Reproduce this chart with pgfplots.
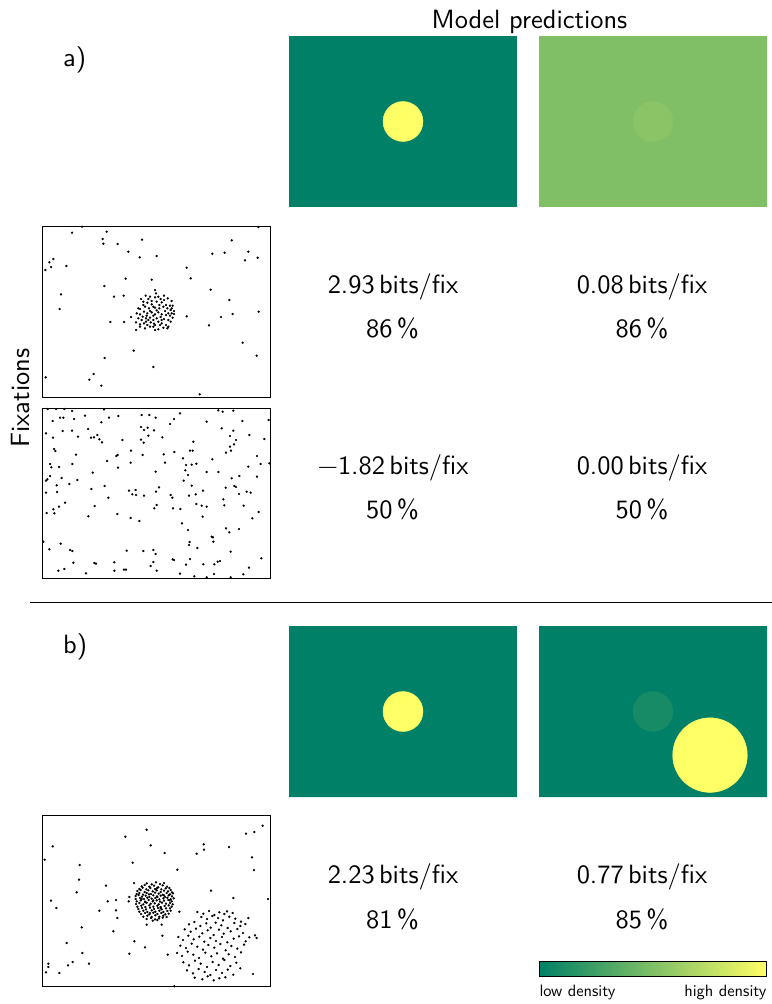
\documentclass[border=0pt]{standalone}
\usepackage{fontspec}
\usepackage{pgfplots}
\usepackage{pgfplotstable}
\pgfplotsset{compat=1.18}
\newfontfamily\lmsten{lmsans10-regular.otf}
\definecolor{sdark}{RGB}{0,128,102}
\definecolor{syellow}{RGB}{255,255,102}
\definecolor{smid}{RGB}{128,191,102}
\definecolor{smidc}{RGB}{138,196,102}
\definecolor{sdarkc}{RGB}{23,139,102}

\pgfplotstableread{
x y
96 23
126 5
200 20
188 42
190 56
306 44
233 57
265 80
299 97
350 93
40 102
28 112
33 126
16 135
79 123
575 46
517 86
554 83
625 80
653 98
615 106
440 128
452 160
257 161
335 164
193 183
512 194
63 208
222 215
251 212
568 225
59 252
656 260
578 267
440 274
543 276
211 291
252 291
507 301
608 353
281 377
194 399
650 392
340 426
161 447
17 457
148 464
184 482
479 508
655 6
345 195
317 212
330 215
345 217
355 215
372 212
383 220
395 228
303 222
310 230
322 233
335 228
350 230
365 232
378 240
390 242
398 242
295 250
300 252
315 245
327 250
340 245
345 248
358 250
370 245
382 250
392 255
402 258
402 267
290 265
300 268
312 260
322 265
335 262
345 268
355 262
365 268
378 270
390 272
398 278
273 276
295 280
305 285
318 280
330 278
340 272
350 280
362 276
372 282
385 285
392 290
288 292
300 298
312 295
322 300
332 292
342 296
355 290
365 295
378 300
385 305
300 305
315 310
330 305
345 315
355 313
370 308
382 310
288 315
340 305
325 285
358 240
335 238
348 205
362 222
310 240
375 258
385 265
320 272
350 256
330 258
365 285
308 275
395 265
340 285
345 300
360 300
318 290
372 225
325 222
395 250
}\fixA

\pgfplotstableread{
x y
23 12
48 12
73 12
96 18
192 13
535 16
548 20
580 17
38 48
60 38
70 38
102 42
135 32
184 52
207 38
235 33
305 30
328 30
347 38
390 57
402 42
420 25
500 50
607 48
686 45
18 85
68 78
96 77
144 72
303 66
312 75
323 68
342 76
325 92
545 70
580 77
628 90
570 93
39 98
114 95
153 98
162 97
172 90
178 103
186 112
247 105
303 104
311 113
367 97
460 110
588 105
673 102
582 118
570 125
42 132
46 138
108 149
233 150
229 153
273 137
308 150
371 148
403 141
450 137
458 137
573 137
558 143
651 153
30 177
34 187
97 177
57 186
201 168
234 188
272 173
375 173
429 160
438 180
455 179
469 176
517 163
662 177
688 175
625 185
158 203
347 200
436 196
444 210
500 201
535 201
30 213
18 227
22 223
65 219
112 225
88 237
50 241
154 252
194 243
267 257
287 255
277 268
288 270
312 272
357 247
348 260
431 227
455 242
489 257
467 268
447 272
392 270
397 278
575 220
598 213
651 215
557 248
583 243
588 246
597 267
620 260
632 263
18 263
51 261
205 278
550 283
75 293
57 305
40 313
43 325
20 324
164 303
350 300
343 310
399 310
421 312
469 297
485 302
500 305
553 301
611 302
656 321
145 334
232 327
272 339
298 348
488 335
637 340
426 355
444 375
558 370
568 382
597 372
515 395
519 397
520 410
10 410
62 416
28 433
90 435
97 438
260 437
310 438
340 435
347 447
449 411
447 420
472 429
572 440
398 463
402 465
450 462
340 471
332 483
540 468
533 470
523 478
490 478
438 479
664 460
100 473
163 474
168 476
223 472
73 492
55 497
138 505
223 497
252 494
258 494
350 497
420 506
463 514
500 517
522 507
572 517
610 508
627 488
}\fixB

\pgfplotstableread{
x y
320 50
256 71
38 100
332 97
374 120
470 122
491 94
492 110
567 102
618 62
643 57
668 38
14 140
119 156
278 149
412 170
636 133
642 171
117 200
198 218
110 238
282 210
513 233
580 255
33 263
49 285
203 265
228 261
268 252
266 265
178 293
228 292
232 315
418 296
684 258
125 343
220 355
320 335
365 335
367 368
80 390
283 385
315 403
127 420
268 422
383 425
25 452
25 462
98 447
84 457
147 452
18 478
58 480
403 520
650 375
645 367
625 315
639 483
320 211
335 214
348 208
360 213
372 210
305 220
314 216
328 221
342 218
355 223
368 217
381 221
388 225
298 228
308 224
319 229
331 225
345 228
352 224
364 229
377 226
392 231
292 234
302 231
314 237
325 232
338 235
350 232
362 237
372 233
384 235
396 238
290 243
298 240
309 245
320 240
333 243
345 239
356 242
368 245
380 240
390 244
399 241
287 249
296 246
306 251
317 248
328 252
340 247
351 250
362 248
375 252
386 247
396 250
287 258
300 255
312 258
322 254
335 257
346 255
358 259
370 256
382 254
392 259
401 256
290 265
302 262
315 266
326 261
338 265
350 262
360 266
372 263
385 261
395 265
288 273
298 270
310 274
320 269
332 272
344 271
356 274
366 269
378 272
390 270
398 274
292 281
304 278
316 282
328 277
340 281
352 278
362 282
374 279
386 277
395 281
295 288
306 285
318 289
330 284
342 288
354 285
365 289
378 286
390 286
298 296
310 293
322 297
335 292
346 296
358 293
370 297
382 294
392 293
303 303
315 300
328 304
340 299
352 303
364 300
376 304
386 302
310 311
322 308
335 312
346 307
358 311
370 308
380 312
320 318
333 315
345 319
357 316
368 314
338 323
352 321
327 244
352 252
316 268
362 285
340 262
330 300
372 247
305 258
388 262
348 228
472 297
490 302
507 294
523 306
538 298
553 303
561 295
578 300
484 312
501 318
517 309
534 315
549 322
568 311
586 317
603 326
447 334
463 327
481 339
499 331
512 344
527 329
544 337
563 345
583 330
601 339
616 333
434 349
452 356
468 347
487 361
503 352
521 366
537 350
551 362
572 355
592 348
609 360
415 372
429 381
445 368
461 379
478 371
493 386
511 375
528 384
546 372
562 388
581 377
597 370
617 385
628 373
421 398
438 405
455 392
472 401
489 410
505 396
523 404
541 393
557 412
574 399
592 407
612 395
411 420
426 429
443 416
460 425
477 435
496 419
514 430
531 421
549 437
566 424
585 432
603 418
430 448
447 457
465 443
482 452
501 462
518 447
536 456
553 441
571 459
589 449
601 466
441 472
459 481
476 468
494 477
511 486
528 471
546 480
563 470
580 485
464 494
487 499
503 490
521 502
538 496
556 493
}\fixC

\pgfplotsset{
 pred/.style={scale only axis, width=228bp, height=171bp, xmin=0, xmax=800, ymin=0, ymax=600, y dir=reverse, axis lines=none, ticks=none, anchor=north west, clip=true},
 fix/.style={scale only axis, width=227.3bp, height=170.6bp, y dir=reverse, xtick=\empty, ytick=\empty, anchor=north west, axis line style={line width=0.8bp}},
 dots/.style={only marks, mark=*, mark size=0.95bp, color=black},
}

\begin{document}
\begin{tikzpicture}[font=\lmsten\fontsize{26.5}{31}\selectfont]
\useasboundingbox (0,0) rectangle (772bp,-1004bp);

% ---- a) predictions
\begin{axis}[pred, at={(289bp,-36bp)}]
\addplot[draw=none, fill=sdark] coordinates {(0,0) (800,0) (800,600) (0,600) (0,0)};
\addplot[only marks, mark=*, mark size=20bp, color=syellow] coordinates {(400,300)};
\end{axis}
\begin{axis}[pred, at={(539bp,-36bp)}]
\addplot[draw=none, fill=smid] coordinates {(0,0) (800,0) (800,600) (0,600) (0,0)};
\addplot[only marks, mark=*, mark size=20bp, color=smidc] coordinates {(400,300)};
\end{axis}

% ---- a) fixations
\begin{axis}[fix, at={(42.7bp,-226.7bp)}, xmin=8, xmax=690, ymin=5, ymax=517]
\addplot[dots] table {\fixA};
\end{axis}
\begin{axis}[fix, at={(42.7bp,-408bp)}, height=170bp, xmin=8, xmax=690, ymin=9, ymax=519]
\addplot[dots] table {\fixB};
\end{axis}

% ---- b) predictions
\begin{axis}[pred, at={(289bp,-626bp)}]
\addplot[draw=none, fill=sdark] coordinates {(0,0) (800,0) (800,600) (0,600) (0,0)};
\addplot[only marks, mark=*, mark size=20bp, color=syellow] coordinates {(400,300)};
\end{axis}
\begin{axis}[pred, at={(539bp,-626bp)}]
\addplot[draw=none, fill=sdark] coordinates {(0,0) (800,0) (800,600) (0,600) (0,0)};
\addplot[only marks, mark=*, mark size=20bp, color=sdarkc] coordinates {(400,300)};
\addplot[only marks, mark=*, mark size=37.3bp, color=syellow] coordinates {(600,453)};
\end{axis}

% ---- b) fixations
\begin{axis}[fix, at={(42.7bp,-815.7bp)}, xmin=8, xmax=690, ymin=8, ymax=520]
\addplot[dots] table {\fixC};
\end{axis}

% ---- colorbar
\begin{axis}[at={(539bp,-961.7bp)}, anchor=north west, scale only axis, width=227.7bp, height=15bp,
  view={0}{90}, xmin=0, xmax=1, ymin=0, ymax=1, ticks=none,
  colormap={summer}{rgb255=(0,128,102) rgb255=(255,255,102)},
  axis line style={line width=0.6bp}]
\addplot3[surf, shader=interp, point meta=x] coordinates {(0,0,0) (1,0,0)

(0,1,0) (1,1,0)};
\end{axis}

% ---- texts
\node[anchor=base] at (529.5bp,-28bp) {Model predictions};
\node[anchor=base west, inner sep=0pt] at (63bp,-66.7bp) {a)};
\node[anchor=base west, inner sep=0pt] at (63bp,-653.5bp) {b)};
\node[rotate=90, anchor=center] at (21bp,-398bp) {Fixations};

\node[anchor=base] at (393bp,-293.3bp) {2.93\,bits/fix};
\node[anchor=base] at (642bp,-293.3bp) {0.08\,bits/fix};
\node[anchor=base] at (392.5bp,-337bp) {86\,\%};
\node[anchor=base] at (642bp,-337bp) {86\,\%};

\node[anchor=base] at (393bp,-474bp) {−1.82\,bits/fix};
\node[anchor=base] at (642bp,-474bp) {0.00\,bits/fix};
\node[anchor=base] at (392.5bp,-518bp) {50\,\%};
\node[anchor=base] at (642bp,-518bp) {50\,\%};

\node[anchor=base] at (393bp,-883bp) {2.23\,bits/fix};
\node[anchor=base] at (642bp,-883bp) {0.77\,bits/fix};
\node[anchor=base] at (392.5bp,-928bp) {81\,\%};
\node[anchor=base] at (642bp,-928bp) {85\,\%};

\draw[line width=0.8bp] (30bp,-602bp) -- (772bp,-602bp);

\node[anchor=base west, inner sep=0pt, font=\lmsten\fontsize{16.5}{19}\selectfont] at (539.3bp,-996.7bp) {low density};
\node[anchor=base east, inner sep=0pt, font=\lmsten\fontsize{16.5}{19}\selectfont] at (766.7bp,-996.7bp) {high density};
\end{tikzpicture}
\end{document}
